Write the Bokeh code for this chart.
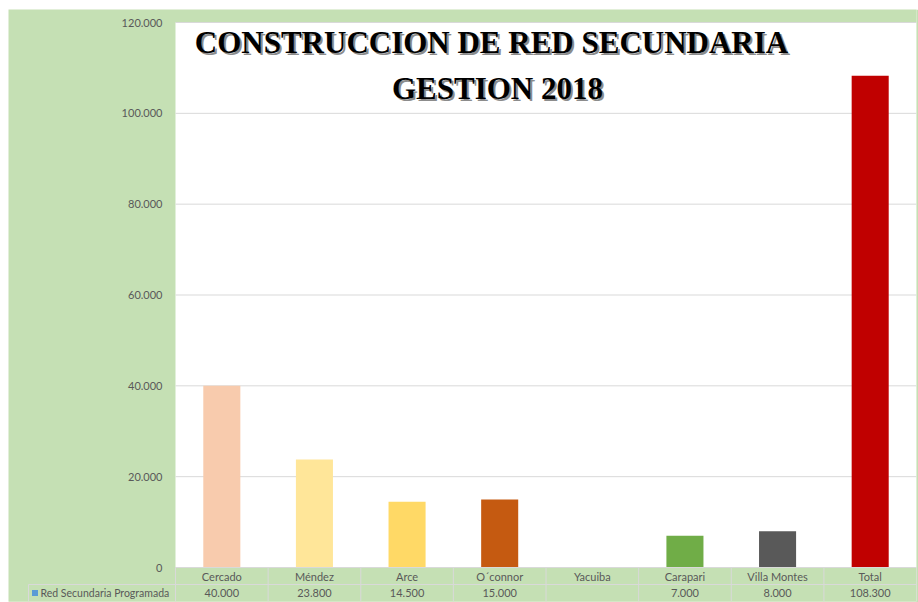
import math
from bokeh.plotting import figure
from bokeh.models import ColumnDataSource, Range1d, Label
from bokeh.core.properties import value
from bokeh.embed import file_html
from bokeh.resources import INLINE

# ---- data ----
categories = ["Cercado", "Méndez", "Arce", "O´connor", "Yacuiba", "Carapari", "Villa Montes", "Total"]
values = [40000, 23800, 14500, 15000, None, 7000, 8000, 108300]
colors = ["#F8CBAD", "#FFE699", "#FFD966", "#C55A11", "#A5A5A5", "#70AD47", "#595959", "#C00000"]
series_name = "Red Secundaria Programada"
y_ticks = [0, 20000, 40000, 60000, 80000, 100000, 120000]
title_lines = ["CONSTRUCCION DE RED SECUNDARIA", "GESTION 2018"]


def fmt(v):
    return "" if v is None else f"{v:,.0f}".replace(",", ".")


GREEN = "#C5E0B4"
TXT = "#595959"
LINE = "#D9D9D9"
FONT = "Lato"

n = len(categories)
y_top = max(y_ticks)

# layout (pixels): plot area 741 px wide, starting 167 px from the canvas left and
# 13 px from its top; value range spans 545 px; two table rows of 17 px below.
PLOT_LEFT, PLOT_TOP, PLOT_W, PLOT_H, ROW_PX = 167, 13, 741, 545, 17
ux = n / PLOT_W                      # x data units per pixel
uy = y_top / PLOT_H                  # y data units per pixel
row_h = ROW_PX * uy
y_bottom = -2 * row_h
x_start = -PLOT_LEFT * ux
y_end = y_top + PLOT_TOP * uy

p = figure(width=910, height=593, output_backend="svg", toolbar_location=None,
           x_range=Range1d(x_start, n), y_range=Range1d(y_bottom, y_end),
           x_axis_type=None, y_axis_type=None, min_border_left=0, min_border_right=2,
           min_border_top=0, min_border_bottom=1)
p.margin = (9, 0, 0, 8)
p.background_fill_color = GREEN
p.border_fill_color = GREEN
p.outline_line_color = None
p.xgrid.visible = False
p.ygrid.visible = False

# white plot area
p.quad(left=[0], right=[n], top=[y_top], bottom=[0], fill_color="white", line_color=None)

# horizontal gridlines
p.segment(x0=[0] * len(y_ticks), x1=[n] * len(y_ticks), y0=y_ticks, y1=y_ticks,
          line_color=LINE, line_width=1)

# y tick labels
p.text(x=[-13 * ux] * len(y_ticks), y=y_ticks, text=[fmt(t) for t in y_ticks],
       text_align="right", text_baseline="middle", text_font=value(FONT),
       text_font_size="11px", text_color=TXT)

# bars
xs = [i + 0.5 for i in range(n)]
tops = [float("nan") if v is None else v for v in values]
src = ColumnDataSource(dict(x=xs, top=tops, color=colors, cat=categories,
                            lab=[fmt(v) for v in values]))
p.vbar(x="x", top="top", width=0.4, color="color", line_color=None, source=src)

# data table below the plot
leg_left = (20 - PLOT_LEFT) * ux
seg_x0 = [float(i) for i in range(n + 1)] + [0, leg_left, leg_left]
seg_x1 = [float(i) for i in range(n + 1)] + [n, n, leg_left]
seg_y0 = [0.0] * (n + 1) + [0.0, -row_h, -row_h]
seg_y1 = [y_bottom] * (n + 1) + [0.0, -row_h, y_bottom]
p.segment(x0=seg_x0, y0=seg_y0, x1=seg_x1, y1=seg_y1, line_color=LINE, line_width=1)

p.text(x="x", y=-row_h / 2, text="cat", source=src, text_align="center",
       text_baseline="middle", text_font=value(FONT), text_font_size="11px", text_color=TXT)
p.text(x="x", y=-1.5 * row_h, text="lab", source=src, text_align="center",
       text_baseline="middle", text_font=value(FONT), text_font_size="11px", text_color=TXT)

# legend key in the table
p.scatter(x=[(26.5 - PLOT_LEFT) * ux], y=[-1.5 * row_h], marker="square", size=6,
          fill_color="#5B9BD5", line_color=None)
p.text(x=[(32 - PLOT_LEFT) * ux], y=[-1.5 * row_h], text=[series_name],
       text_align="left", text_baseline="middle", text_font=value(FONT),
       text_font_size="10.5px", text_color=TXT)

# title (screen units are relative to the frame, y from its bottom)
title_pos = [(PLOT_LEFT + 316, 559), (PLOT_LEFT + 322, 513)]
for (tx, ty), t in zip(title_pos, title_lines):
    p.add_layout(Label(x=tx + 2, y=ty - 2, x_units="screen", y_units="screen", text=t,
                       text_align="center", text_baseline="middle", text_color="#8C8C8C",
                       text_font="Liberation Serif", text_font_style="bold",
                       text_font_size="31px"))
    p.add_layout(Label(x=tx, y=ty, x_units="screen", y_units="screen", text=t,
                       text_align="center", text_baseline="middle", text_color="black",
                       text_font="Liberation Serif", text_font_style="bold",
                       text_font_size="31px"))

open("out.html", "w").write(file_html(p, INLINE))
